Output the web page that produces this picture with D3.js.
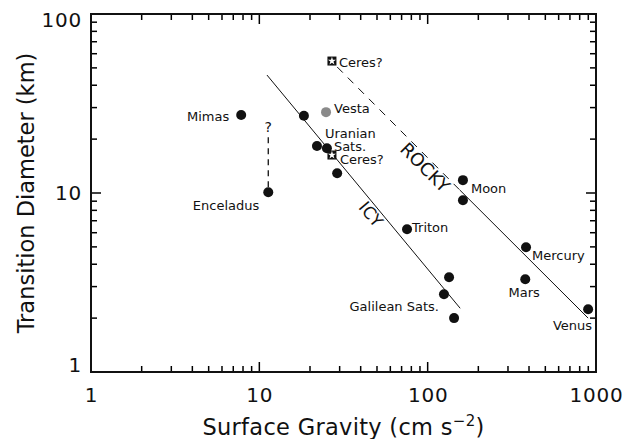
<!DOCTYPE html>
<html>
<head>
<meta charset="utf-8">
<script src="https://cdn.jsdelivr.net/npm/d3@7"></script>
<style>
  body { margin: 0; background: #fff; }
  svg text { font-family: "DejaVu Sans", sans-serif; fill: #111; }
</style>
</head>
<body>
<div class="canvas"></div>
<script>
// Data
var icyBodies = [
  {name: 'Mimas',     g: 7.8,  d: 27.3},
  {name: 'Enceladus', g: 11.3, d: 10.1},
  {name: '',          g: 18.4, d: 27.0},
  {name: '',          g: 22.0, d: 18.3},
  {name: 'Uranian',   g: 25.2, d: 17.8},
  {name: '',          g: 29.0, d: 12.9},
  {name: 'Triton',    g: 75.4, d: 6.28},
  {name: '',          g: 134,  d: 3.38},
  {name: 'Galilean',  g: 125,  d: 2.72},
  {name: '',          g: 143.5, d: 2.0}
];
var rockyBodies = [
  {name: 'Moon',    g: 162, d: 11.8},
  {name: '',        g: 162, d: 9.1},
  {name: 'Mercury', g: 384, d: 4.98},
  {name: 'Mars',    g: 380, d: 3.30},
  {name: 'Venus',   g: 898, d: 2.24}
];
var vesta = [{name: 'Vesta', g: 24.9, d: 28.3}];
var ceres = [
  {name: 'CeresRocky', g: 27, d: 54.6},
  {name: 'CeresIcy',   g: 27, d: 16.3}
];
var icyFit = [[11.1, 45.6], [156, 2.27]];
var rockyDashed = [[29, 50.6], [155, 10.4]];
var rockySolid = [[155, 10.4], [898, 2.0]];
var enceladusRange = [[11.3, 10.1], [11.3, 20.5]];
var xMajor = [1, 10, 100, 1000];
var yMajor = [1, 10, 100];
var xMinor = [2,3,4,5,6,7,8,9,20,30,40,50,60,70,80,90,200,300,400,500,600,700,800,900];
var yMinor = [2,3,4,5,6,7,8,9,20,30,40,50,60,70,80,90];

// label text + pixel offsets from their mark
var labels = {
  'Mimas':      {text: ['Mimas'], dx: -12, dy: 6, anchor: 'end'},
  'Enceladus':  {text: ['Enceladus'], dx: -9, dy: 18, anchor: 'end'},
  'Vesta':      {text: ['Vesta'], dx: 8, dy: 1, anchor: 'start'},
  'CeresRocky': {text: ['Ceres?'], dx: 7, dy: 6, anchor: 'start'},
  'CeresIcy':   {text: ['Ceres?'], dx: 8, dy: 9, anchor: 'start'},
  'Uranian':    {text: ['Uranian', 'Sats.'], dx: -2, dy: -10, anchor: 'start', lineDx: [0, 9]},
  'Moon':       {text: ['Moon'], dx: 8, dy: 13, anchor: 'start'},
  'Triton':     {text: ['Triton'], dx: 5, dy: 3, anchor: 'start'},
  'Mercury':    {text: ['Mercury'], dx: 6, dy: 13, anchor: 'start'},
  'Mars':       {text: ['Mars'], dx: -1, dy: 18, anchor: 'middle'},
  'Galilean':   {text: ['Galilean Sats.'], dx: -5, dy: 17, anchor: 'end'},
  'Venus':      {text: ['Venus'], dx: 4, dy: 21, anchor: 'end'}
};

var width = 634, height = 439,
    mLeft = 91, mRight = 596, mTop = 14, mBottom = 372;

var svg = d3.select('.canvas').append('svg')
    .attr('width', width)
    .attr('height', height)
    .style('background-color', '#fff');

var x = d3.scaleLog().domain([1, 1000]).range([mLeft, mRight]);
var y = d3.scaleLog().domain([1, 100]).range([mBottom, mTop]);

// Tick labels via d3 axes
var gx = svg.append('g').attr('transform', 'translate(0,' + mBottom + ')')
    .call(d3.axisBottom(x).tickValues(xMajor).tickSize(0).tickPadding(16).tickFormat(d3.format('d')));
var gy = svg.append('g').attr('transform', 'translate(' + mLeft + ',0)')
    .call(d3.axisLeft(y).tickValues(yMajor).tickSize(0).tickPadding(9).tickFormat(d3.format('d')));
svg.selectAll('.domain').remove();
svg.selectAll('.tick text').style('font-size', '20px').style('letter-spacing', '0.8px').attr('fill', '#111');
gy.selectAll('.tick text').attr('dy', function (d) {
    return d === 100 ? '0.6em' : d === 1 ? '-0.05em' : '0.32em';
});

// Inward tick marks on all four sides
var ticks = svg.append('g').attr('stroke', '#000').attr('stroke-width', 1.5);
function xTicks(vals, len) {
    ticks.selectAll(null).data(vals).enter().append('line')
        .attr('x1', function (d) { return x(d); }).attr('x2', function (d) { return x(d); })
        .attr('y1', mBottom).attr('y2', mBottom - len);
    ticks.selectAll(null).data(vals).enter().append('line')
        .attr('x1', function (d) { return x(d); }).attr('x2', function (d) { return x(d); })
        .attr('y1', mTop).attr('y2', mTop + len);
}
function yTicks(vals, len) {
    ticks.selectAll(null).data(vals).enter().append('line')
        .attr('y1', function (d) { return y(d); }).attr('y2', function (d) { return y(d); })
        .attr('x1', mLeft).attr('x2', mLeft + len);
    ticks.selectAll(null).data(vals).enter().append('line')
        .attr('y1', function (d) { return y(d); }).attr('y2', function (d) { return y(d); })
        .attr('x1', mRight).attr('x2', mRight - len);
}
xTicks(xMinor, 6); xTicks(xMajor, 10);
yTicks(yMinor, 6); yTicks(yMajor, 10);

svg.append('rect')
    .attr('x', mLeft).attr('y', mTop)
    .attr('width', mRight - mLeft).attr('height', mBottom - mTop)
    .attr('fill', 'none').attr('stroke', '#111').attr('stroke-width', 2);

// Axis titles
svg.append('text')
    .attr('x', (mLeft + mRight) / 2).attr('y', 435)
    .attr('text-anchor', 'middle')
    .style('font-size', '22.5px')
    .style('letter-spacing', '0.3px')
    .html('Surface Gravity (cm s<tspan dy="-9" style="font-size:15px">\u22122</tspan><tspan dy="9">)</tspan>');

svg.append('text')
    .attr('transform', 'translate(34,' + ((mTop + mBottom) / 2) + ') rotate(-90)')
    .attr('text-anchor', 'middle')
    .style('font-size', '22.5px')
    .text('Transition Diameter (km)');

// Fit lines
var line = d3.line().x(function (d) { return x(d[0]); }).y(function (d) { return y(d[1]); });
svg.append('path').datum(icyFit).attr('d', line)
    .attr('fill', 'none').attr('stroke', '#111').attr('stroke-width', 1);
svg.append('path').datum(rockySolid).attr('d', line)
    .attr('fill', 'none').attr('stroke', '#111').attr('stroke-width', 1);
svg.append('path').datum(rockyDashed).attr('d', line)
    .attr('fill', 'none').attr('stroke', '#111').attr('stroke-width', 1)
    .attr('stroke-dasharray', '8,7');
svg.append('path').datum(enceladusRange.slice().reverse()).attr('d', line)
    .attr('fill', 'none').attr('stroke', '#111').attr('stroke-width', 1.3)
    .attr('stroke-dasharray', '6,5');
svg.append('text')
    .attr('x', x(enceladusRange[1][0])).attr('y', y(enceladusRange[1][1]) - 5)
    .attr('text-anchor', 'middle').style('font-size', '14px').text('?');

// Region labels along the fits
svg.append('text')
    .attr('transform', 'translate(' + x(46) + ',' + y(7.6) + ') rotate(50)')
    .attr('text-anchor', 'middle').attr('dy', '0.35em')
    .style('font-size', '17px').text('ICY');
svg.append('text')
    .attr('transform', 'translate(' + x(96.5) + ',' + y(13.9) + ') rotate(45)')
    .attr('text-anchor', 'middle').attr('dy', '0.35em')
    .style('font-size', '18px').text('ROCKY');

// Points
svg.selectAll('circle.body')
    .data(icyBodies.concat(rockyBodies))
    .enter().append('circle')
    .attr('class', 'body')
    .attr('cx', function (d) { return x(d.g); })
    .attr('cy', function (d) { return y(d.d); })
    .attr('r', 5)
    .attr('fill', '#111');

svg.selectAll('circle.vesta')
    .data(vesta)
    .enter().append('circle')
    .attr('class', 'vesta')
    .attr('cx', function (d) { return x(d.g); })
    .attr('cy', function (d) { return y(d.d); })
    .attr('r', 5)
    .attr('fill', '#8a8a8a');

var ceresG = svg.selectAll('g.ceres')
    .data(ceres)
    .enter().append('g')
    .attr('class', 'ceres')
    .attr('transform', function (d) { return 'translate(' + x(d.g) + ',' + y(d.d) + ')'; });
ceresG.append('rect').attr('x', -4.5).attr('y', -4.5).attr('width', 9).attr('height', 9).attr('fill', '#111');
ceresG.append('path').attr('d', d3.symbol(d3.symbolStar).size(20)).attr('fill', '#fff');

// Labels
var all = icyBodies.concat(rockyBodies, vesta, ceres).filter(function (d) { return labels[d.name]; });
all.forEach(function (d) {
    var l = labels[d.name];
    var t = svg.append('text')
        .attr('x', x(d.g) + l.dx)
        .attr('y', y(d.d) + l.dy)
        .attr('text-anchor', l.anchor)
        .style('font-size', '13px');
    l.text.forEach(function (s, i) {
        t.append('tspan')
            .attr('x', x(d.g) + l.dx + (l.lineDx ? l.lineDx[i] : 0))
            .attr('dy', i === 0 ? 0 : 13)
            .text(s);
    });
});
</script>
</body>
</html>
